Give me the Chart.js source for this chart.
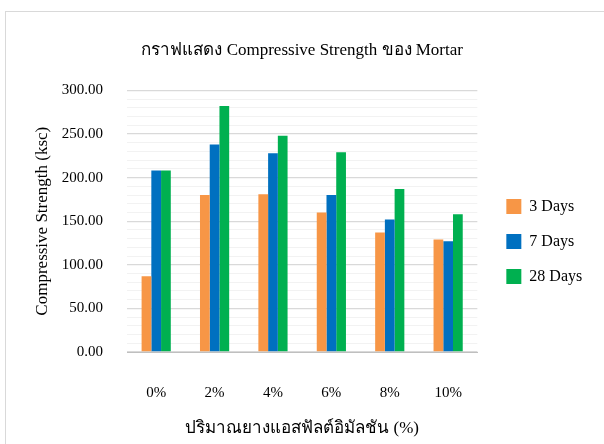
<!DOCTYPE html>
<html>
<head>
<meta charset="utf-8">
<script src="https://cdn.jsdelivr.net/npm/chart.js@4.4.0/dist/chart.umd.min.js"></script>
<style>
  html, body { margin: 0; padding: 0; background: #ffffff; }
  #wrap { width: 604px; height: 444px; }
</style>
</head>
<body>
<div id="wrap"><canvas id="chart" width="604" height="444"></canvas></div>
<script>
// Asphalt emulsion content (%) and compressive strength (ksc) by curing age
const categories = ['0%', '2%', '4%', '6%', '8%', '10%'];
const days3  = [87, 180, 181, 160, 137, 129];
const days7  = [208, 238, 228, 180, 152, 127];
const days28 = [208, 282, 248, 229, 187, 158];
const seriesNames = ['3 Days', '7 Days', '28 Days'];
const seriesColors = ['#F79646', '#0070C0', '#00B050'];
const yMin = 0, yMax = 300, yMajor = 50, yMinor = 10;

const FONT = "'Liberation Serif', 'Times New Roman', serif";

// White page with a thin frame around the chart
const framePlugin = {
  id: 'frame',
  beforeDraw(chart) {
    const c = chart.ctx;
    c.save();
    c.fillStyle = '#ffffff';
    c.fillRect(0, 0, chart.width, chart.height);
    c.strokeStyle = '#d9d9d9';
    c.lineWidth = 1;
    c.strokeRect(5.5, 11.5, chart.width + 20, chart.height + 20);
    c.restore();
  }
};

// Give the legend box some room on its right so its labels are not clipped
const legendRoomPlugin = {
  id: 'legendRoom',
  beforeLayout(chart) {
    const lg = chart.legend;
    if (lg && !lg._roomAdded) {
      const fit = lg.fit.bind(lg);
      lg.fit = function () { fit(); this.width += 18; };
      lg._roomAdded = true;
    }
  }
};

new Chart(document.getElementById('chart'), {
  type: 'bar',
  data: {
    labels: categories,
    datasets: [days3, days7, days28].map((d, i) => ({
      label: seriesNames[i],
      data: d,
      backgroundColor: seriesColors[i],
      borderWidth: 0,
      categoryPercentage: 0.5,
      barPercentage: 1.0
    }))
  },
  options: {
    responsive: false,
    animation: false,
    devicePixelRatio: 1,
    layout: { padding: { top: 40, left: 22, right: 2, bottom: 1 } },
    plugins: {
      title: {
        display: true,
        fullSize: false,
        text: 'กราฟแสดง Compressive Strength ของ Mortar',
        color: '#000000',
        font: { family: FONT, size: 17, weight: 'normal' },
        padding: { top: 0, bottom: 30 }
      },
      legend: {
        position: 'right',
        labels: {
          color: '#000000',
          font: { family: FONT, size: 16 },
          boxWidth: 15,
          boxHeight: 15,
          padding: 19
        }
      },
      tooltip: { enabled: false }
    },
    scales: {
      x: {
        grid: { display: false },
        border: { display: true, color: '#bfbfbf', width: 1 },
        ticks: {
          color: '#000000',
          font: { family: FONT, size: 15 },
          padding: 24
        },
        title: {
          display: true,
          text: 'ปริมาณยางแอสฟัลต์อิมัลชัน (%)',
          color: '#000000',
          font: { family: FONT, size: 17 },
          padding: { top: 18, bottom: 4 }
        },
        afterFit(scale) { scale.height = 91; }
      },
      y: {
        min: yMin,
        max: yMax,
        border: { display: false },
        grid: {
          drawTicks: false,
          color: ctx => (ctx.tick && ctx.tick.value % yMajor === 0) ? '#d9d9d9' : '#f2f2f2',
          lineWidth: ctx => (ctx.tick && ctx.tick.value % yMajor === 0) ? 1.3 : 1
        },
        ticks: {
          stepSize: yMinor,
          autoSkip: false,
          color: '#000000',
          font: { family: FONT, size: 15 },
          padding: 24,
          callback: v => (v % yMajor === 0) ? v.toFixed(2) : ''
        },
        title: {
          display: true,
          text: 'Compressive Strength (ksc)',
          color: '#000000',
          font: { family: FONT, size: 17 },
          padding: { top: 10, bottom: 0 }
        },
        afterFit(scale) { scale.width = 105; }
      },
      // empty spacer between the plot and the legend
      gap: {
        position: 'right',
        grid: { display: false },
        border: { display: false },
        ticks: { display: false },
        afterFit(scale) { scale.width = 10; }
      }
    }
  },
  plugins: [framePlugin, legendRoomPlugin]
});
</script>
</body>
</html>
